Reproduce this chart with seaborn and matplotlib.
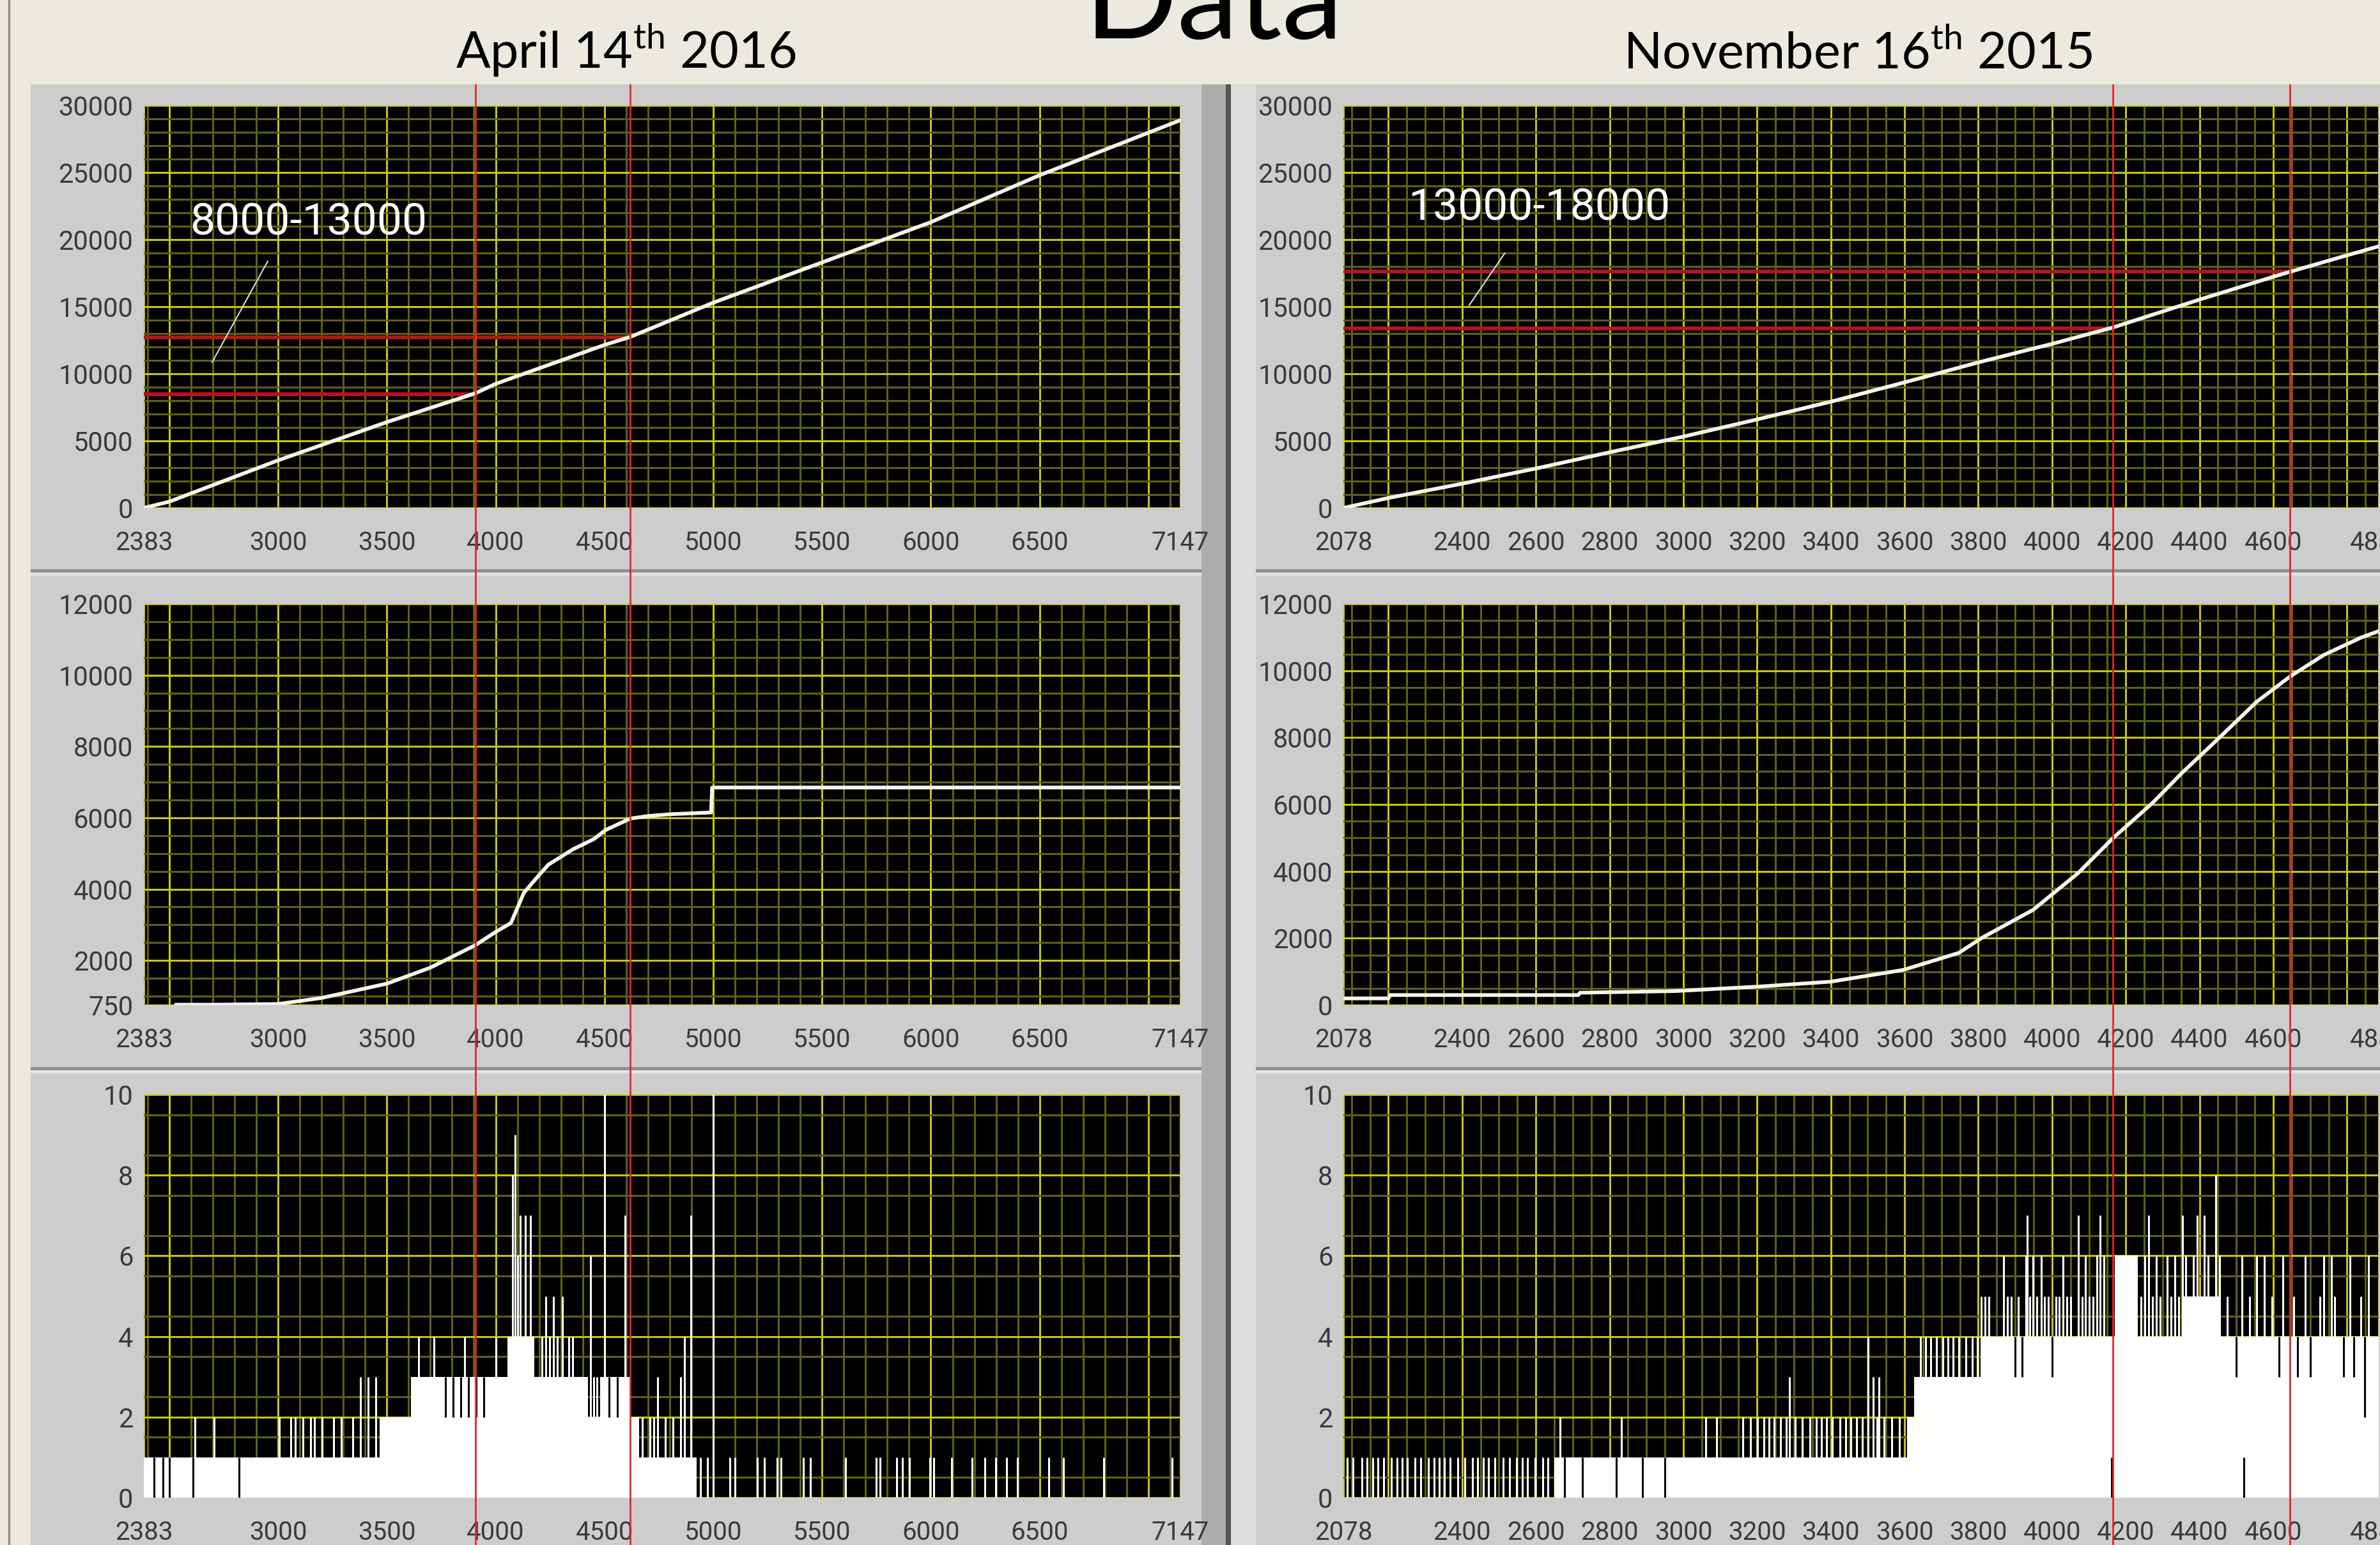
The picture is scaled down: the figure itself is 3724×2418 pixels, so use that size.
import numpy as np
import matplotlib
matplotlib.use('Agg')
import matplotlib.pyplot as plt
import seaborn as sns
from matplotlib.patches import Rectangle
from matplotlib.lines import Line2D

# ---------------- data ----------------
# April 14th 2016 (left column)
apr_xlim = (2383, 7147)
apr_xticks = [2383, 2500, 3000, 3500, 4000, 4500, 5000, 5500, 6000, 6500, 7000, 7147]
apr_xlabels = ['2383', '', '3000', '3500', '4000', '4500', '5000', '5500', '6000', '6500', '', '7147']
apr_cursors = [3907, 4619]
apr_band = [8500, 12700]
apr_top_x = [2383, 2500, 3000, 3500, 3907, 4000, 4500, 4619, 5000, 5500, 6000, 6500, 7147]
apr_top_y = [0, 470, 3550, 6400, 8550, 9250, 12150, 12750, 15300, 18300, 21300, 24800, 28900]
apr_mid_x = [2530, 2700, 3000, 3200, 3500, 3700, 3907, 4000, 4070, 4130, 4200, 4243,
             4356, 4450, 4506, 4619, 4700, 4800, 4990, 4995, 7147]
apr_mid_y = [760, 760, 780, 950, 1350, 1800, 2430, 2800, 3050, 3900, 4400, 4690,
             5120, 5400, 5660, 5980, 6050, 6100, 6150, 6850, 6850]
apr_env_x = [2383, 3468, 3610, 4053, 4177, 4425, 4480, 4620, 4660, 4925, 7147]
apr_env_y = [1, 2, 3, 4, 3, 2, 3, 2, 1, 0, 0]
apr_spike_x = [2617, 2706, 3007, 3060, 3078, 3113, 3149, 3166, 3202, 3255, 3291, 3344,
               3380, 3415, 3450, 3645, 3716, 3858, 4000, 4078, 4089, 4100, 4113, 4135,
               4160, 4213, 4230, 4248, 4265, 4283, 4308, 4337, 4355, 4436, 4450, 4465,
               4500, 4596, 4674, 4709, 4727, 4745, 4780, 4815, 4851, 4869, 4897, 5000,
               4916, 4940, 4975, 5076, 5101, 5202, 5236, 5295, 5312, 5413, 5447, 5607,
               5750, 5767, 5843, 5868, 5902, 5995, 6012, 6096, 6189, 6248, 6298, 6349,
               6399, 6543, 6610, 6796, 7108]
apr_spike_y = [2, 2, 2, 2, 2, 2, 2, 2, 2, 2, 2, 2,
               3, 3, 3, 4, 4, 4, 4, 8, 9, 6, 7, 7,
               7, 4, 5, 4, 5, 4, 5, 4, 4, 6, 3, 3,
               10, 7, 2, 2, 2, 3, 2, 2, 3, 4, 7, 10,
               1, 1, 1, 1, 1, 1, 1, 1, 1, 1, 1, 1,
               1, 1, 1, 1, 1, 1, 1, 1, 1, 1, 1, 1,
               1, 1, 1, 1, 1]
apr_dip_x = [2430, 2470, 2500, 2610, 2820, 3770, 3805, 3840, 3876, 3911, 3947, 4520, 4560]
apr_dip_lo = [0, 0, 0, 0, 0, 2, 2, 2, 2, 2, 2, 2, 2]
apr_dip_hi = [1, 1, 1, 1, 1, 3, 3, 3, 3, 3, 3, 3, 3]

# November 16th 2015 (right column)
nov_xlim = (2078, 4886)
nov_xticks = [2078, 2200, 2400, 2600, 2800, 3000, 3200, 3400, 3600, 3800, 4000,
              4200, 4400, 4600, 4800, 4886]
nov_xlabels = ['2078', '', '2400', '2600', '2800', '3000', '3200', '3400', '3600',
               '3800', '4000', '4200', '4400', '4600', '', '4886']
nov_cursors = [4165, 4645]
nov_band = [13400, 17600]
nov_top_x = [2078, 2200, 2400, 2600, 2800, 3000, 3200, 3400, 3600, 3800, 4000, 4165,
             4400, 4600, 4645, 4800, 4886]
nov_top_y = [0, 745, 1810, 2940, 4150, 5320, 6600, 7920, 9360, 10850, 12230, 13450,
             15530, 17230, 17600, 18830, 19500]
nov_mid_x = [2078, 2200, 2205, 2715, 2720, 2980, 3200, 3400, 3596, 3747, 3808, 3949,
             4071, 4166, 4273, 4353, 4454, 4555, 4646, 4737, 4838, 4895]
nov_mid_y = [200, 200, 300, 300, 370, 420, 550, 700, 1050, 1560, 2000, 2850,
             3950, 5000, 6050, 6950, 8000, 9070, 9830, 10470, 10990, 11220]
nov_env_x = [2078, 2650, 3606, 3626, 3808, 4170, 4232, 4353, 4454, 4886]
nov_env_y = [0, 1, 2, 3, 4, 6, 4, 5, 4, 4]
nov_spike_x = [2088, 2104, 2128, 2142, 2158, 2172, 2188, 2208, 2224, 2238, 2252, 2272,
               2288, 2308, 2324, 2338, 2352, 2368, 2388, 2408, 2428, 2442, 2458, 2472,
               2488, 2512, 2528, 2548, 2564, 2578, 2598, 2618, 2632,
               2665, 2832, 3061, 3091, 3162, 3182, 3202, 3218, 3232, 3246, 3263, 3279,
               3303, 3323, 3343, 3360, 3374, 3388, 3404, 3424, 3440, 3455, 3469, 3485,
               3525, 3545, 3566, 3586,
               3287, 3515, 3530,
               3501, 3643, 3657, 3671, 3687, 3703, 3717, 3731, 3747, 3767, 3783, 3798,
               3808, 3818, 3828, 3879, 3889, 3909, 3939, 3959, 3980, 3990, 4010, 4020,
               4040, 4050, 4081, 4101, 4111, 4242, 4272, 4293, 4323, 4343, 4475, 4535,
               4596, 4656, 4727, 4767, 4838,
               3869, 3929, 3949, 3970, 4030, 4091, 4121, 4141, 4252, 4282, 4313, 4333,
               4363, 4383, 4423, 4454, 4515, 4555, 4576, 4626, 4686, 4737, 4757, 4808,
               4858,
               3933, 4071, 4131, 4262, 4353, 4393, 4413,
               4444]
nov_spike_y = ([1] * 33 + [2] * 28 + [3] * 3 + [4] * 12 + [5] * 29 + [6] * 25
               + [7] * 7 + [8])
nov_dip_x = [2677, 2727, 2818, 2889, 2949, 3899, 3919, 4000, 4162, 4500, 4521, 4616,
             4666, 4700, 4790, 4818, 4848]
nov_dip_lo = [0, 0, 0, 0, 0, 3, 3, 3, 0, 3, 0, 3, 3, 3, 3, 3, 2]
nov_dip_hi = [1, 1, 1, 1, 1, 4, 4, 4, 1, 4, 1, 4, 4, 4, 4, 4, 4]

# ---------------- styling ----------------
sns.set_style('white')
plt.rcParams['font.family'] = ['Roboto', 'DejaVu Sans']
plt.rcParams['mathtext.fontset'] = 'custom'
plt.rcParams['mathtext.rm'] = 'Lato'

W, H = 3724, 2418
BG = '#ECE9DF'
PANEL = '#CDCDCD'
MAJ = '#C4C41C'
MINOR = '#5F5F16'
CURVE = '#F4F4EA'
LBL = '#3A3A3A'


def fx(p):
    return p / W


def fy(p):
    return 1 - p / H


fig = plt.figure(figsize=(W / 100, H / 100), dpi=100, facecolor=BG)

# gray LabVIEW panels
fig.add_artist(Line2D([fx(14), fx(14)], [0, 1], color='#8C8C8C', lw=2.5, zorder=-5))
fig.add_artist(Rectangle((fx(48), 0), fx(1923) - fx(48), fy(132), color=PANEL, lw=0, zorder=-5))
fig.add_artist(Rectangle((fx(1923), 0), 1 - fx(1923), fy(132), color=PANEL, lw=0, zorder=-5))
fig.add_artist(Rectangle((fx(1880), 0), fx(1918) - fx(1880), fy(132), color='#ADADAD', lw=0, zorder=-4))
fig.add_artist(Rectangle((fx(1918), 0), fx(1926) - fx(1918), fy(132), color='#555555', lw=0, zorder=-4))
fig.add_artist(Rectangle((fx(1926), 0), fx(1965) - fx(1926), fy(132), color='#DCDCDC', lw=0, zorder=-4))
for ysep in [893, 1672]:
    for xa, xb in [(48, 1880), (1965, W)]:
        fig.add_artist(Rectangle((fx(xa), fy(ysep + 3)), fx(xb) - fx(xa), 5 / H,
                                 color='#8E8E8E', lw=0, zorder=-3))
        fig.add_artist(Rectangle((fx(xa), fy(ysep + 8)), fx(xb) - fx(xa), 5 / H,
                                 color='#E2E2E2', lw=0, zorder=-3))

# titles
fig.text(0.51, fy(60), 'Data', fontsize=138, ha='center', va='baseline',
         family=['Lato', 'DejaVu Sans'], color='black')
fig.text(fx(979), fy(107), r'April 14$^{\mathrm{th}}$ 2016', fontsize=57, ha='center',
         va='baseline', family=['Lato', 'DejaVu Sans'], color='black')
fig.text(fx(2907), fy(107), r'November 16$^{\mathrm{th}}$ 2015', fontsize=57, ha='center',
         va='baseline', family=['Lato', 'DejaVu Sans'], color='black')

rows = [(165, 795), (945, 1573), (1713, 2344)]
cols = {'apr': (225, 1847), 'nov': (2102, 3722)}


def make_ax(col, row):
    x0, x1 = cols[col]
    y0, y1 = rows[row]
    return fig.add_axes([fx(x0), fy(y1), fx(x1) - fx(x0), (y1 - y0) / H])


def style(ax, xlim, xt, xl, xminor, ylim, yt, yminor):
    ax.set_facecolor('black')
    ax.set_xlim(xlim)
    ax.set_ylim(ylim)
    ax.set_xticks(xt)
    ax.set_xticklabels(xl)
    ax.set_xticks(xminor, minor=True)
    ax.set_yticks(yt)
    ax.set_yticklabels([str(v) for v in yt])
    ax.set_yticks(yminor, minor=True)
    ax.set_axisbelow(True)
    ax.grid(True, which='major', color=MAJ, lw=2.2)
    ax.grid(True, which='minor', color=MINOR, lw=2.2)
    ax.tick_params(axis='x', which='major', direction='out', length=15, width=2,
                   color='#333333', labelsize=29, labelcolor=LBL, pad=10)
    ax.tick_params(axis='y', which='major', direction='out', length=9, width=2,
                   color='#333333', labelsize=30, labelcolor=LBL, pad=3)
    ax.tick_params(which='minor', length=0)
    ax.set_xlabel('')
    ax.set_ylabel('')
    for s in ax.spines.values():
        s.set_visible(False)


panels = {
    'apr': dict(xlim=apr_xlim, xt=apr_xticks, xl=apr_xlabels,
                xminor=list(range(2400, 7147, 100)),
                top=(apr_top_x, apr_top_y), mid=(apr_mid_x, apr_mid_y),
                mid_ylim=(750, 12000), mid_yt=[750, 2000, 4000, 6000, 8000, 10000, 12000],
                mid_minor=list(range(1000, 12000, 500)),
                env=(apr_env_x, apr_env_y), spikes=(apr_spike_x, apr_spike_y),
                dips=(apr_dip_x, apr_dip_lo, apr_dip_hi), cursors=apr_cursors,
                band=apr_band, note='8000-13000', note_xy=(2594, 21240),
                lead=([2953, 2697], [18400, 10860])),
    'nov': dict(xlim=nov_xlim, xt=nov_xticks, xl=nov_xlabels,
                xminor=list(range(2100, 4886, 50)),
                top=(nov_top_x, nov_top_y), mid=(nov_mid_x, nov_mid_y),
                mid_ylim=(0, 12000), mid_yt=[0, 2000, 4000, 6000, 8000, 10000, 12000],
                mid_minor=list(range(500, 12000, 500)),
                env=(nov_env_x, nov_env_y), spikes=(nov_spike_x, nov_spike_y),
                dips=(nov_dip_x, nov_dip_lo, nov_dip_hi), cursors=nov_cursors,
                band=nov_band, note='13000-18000', note_xy=(2253, 22380),
                lead=([2516, 2419], [19000, 15100])),
}

for key, p in panels.items():
    # top: cumulative position
    ax = make_ax(key, 0)
    style(ax, p['xlim'], p['xt'], p['xl'], p['xminor'], (0, 30000),
          [0, 5000, 10000, 15000, 20000, 25000, 30000], list(range(1000, 30000, 1000)))
    for yb, xc in zip(p['band'], p['cursors']):
        ax.hlines(yb, p['xlim'][0], xc, color='#B3161A', lw=4.3, zorder=3)
    sns.lineplot(x=p['top'][0], y=p['top'][1], ax=ax, color=CURVE, lw=4.2, zorder=4)
    ax.text(p['note_xy'][0], p['note_xy'][1], p['note'], color='white', fontsize=50,
            ha='left', va='center', zorder=5)
    ax.plot(p['lead'][0], p['lead'][1], color='#DDDDDD', lw=1.5, zorder=5)

    # middle: integrated curve
    ax = make_ax(key, 1)
    style(ax, p['xlim'], p['xt'], p['xl'], p['xminor'], p['mid_ylim'],
          p['mid_yt'], p['mid_minor'])
    sns.lineplot(x=p['mid'][0], y=p['mid'][1], ax=ax, color=CURVE, lw=4.2, zorder=4)

    # bottom: counts
    ax = make_ax(key, 2)
    style(ax, p['xlim'], p['xt'], p['xl'], p['xminor'], (0, 10),
          [0, 2, 4, 6, 8, 10], [v / 2 for v in range(1, 20, 2)])
    ex, ey = p['env']
    ax.fill_between(ex, ey, step='post', color='white', lw=0, zorder=2)
    ax.vlines(p['spikes'][0], 0, p['spikes'][1], colors='white', lw=2.2, zorder=3)
    dx, dlo, dhi = p['dips']
    ax.vlines(dx, dlo, dhi, colors='black', lw=2.2, zorder=3)

    # red cursors running through the whole column
    x0, x1 = cols[key]
    ov = fig.add_axes([fx(x0), 0, fx(x1) - fx(x0), fy(132)], zorder=10)
    ov.set_xlim(p['xlim'])
    ov.set_ylim(0, 1)
    ov.axis('off')
    ov.patch.set_alpha(0)
    for xc in p['cursors']:
        ov.axvline(xc, color='#E4262A', lw=2.0)

fig.savefig('out.png', dpi=100, facecolor=BG)
